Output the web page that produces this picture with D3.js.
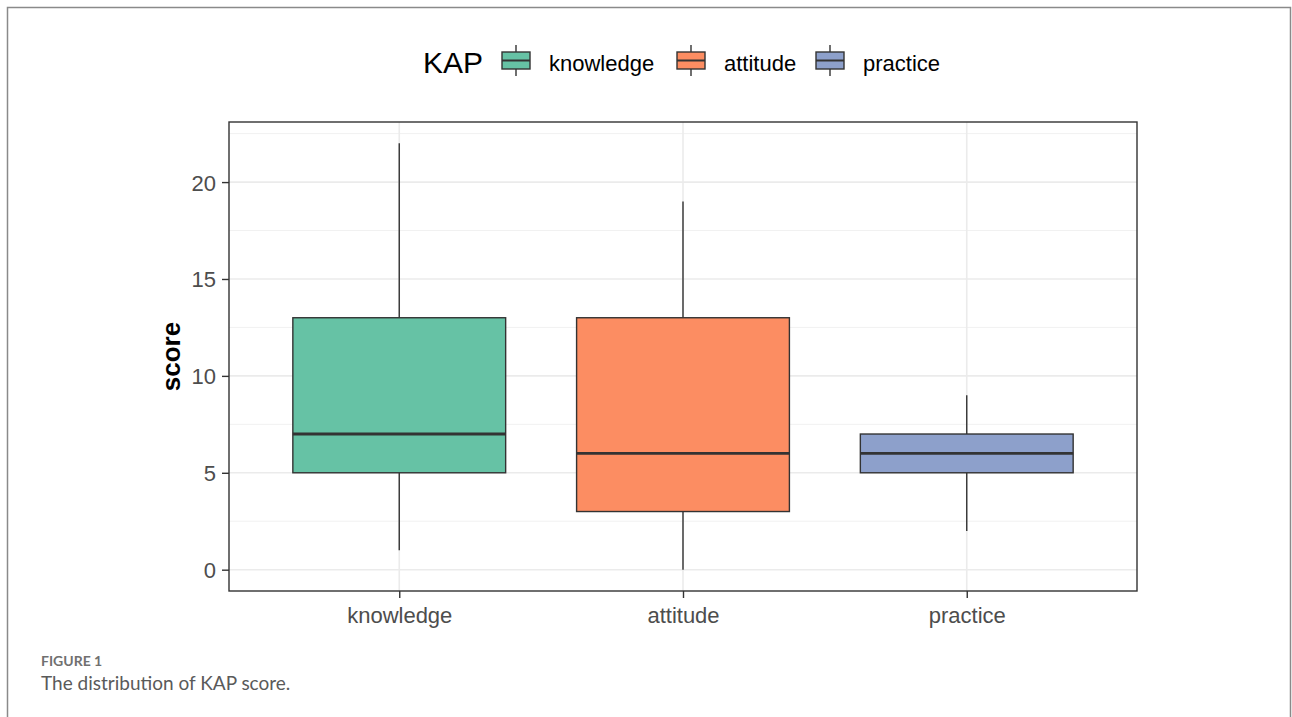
<!DOCTYPE html>
<html lang="en">
<head>
<meta charset="UTF-8">
<title>KAP score</title>
<style>
  body { margin: 0; background: #fff; }
  text { font-family: "Liberation Sans", Arial, sans-serif; }
</style>
</head>
<body>
<svg id="chart" width="1292" height="717"></svg>
<script src="https://cdn.jsdelivr.net/npm/d3@7"></script>
<script>
// data
var categories = ["knowledge", "attitude", "practice"];
var mins    = [1, 0, 2];
var q1s     = [5, 3, 5];
var medians = [7, 6, 6];
var q3s     = [13, 13, 7];
var maxs    = [22, 19, 9];
var yTicks  = [0, 5, 10, 15, 20];
var colors  = ["#66C2A5", "#FC8D62", "#8DA0CB"];

var boxes = categories.map(function(c, i) {
  return {name: c, min: mins[i], q1: q1s[i], med: medians[i], q3: q3s[i], max: maxs[i], color: colors[i]};
});

var svg = d3.select("#chart");

// outer frame of the figure
svg.append("path")
  .attr("d", "M7.5,730 V7.5 H1290.5 V730")
  .attr("fill", "none")
  .attr("stroke", "#8a8a8a")
  .attr("stroke-width", 1.5);

var panel = {left: 229, right: 1137, top: 122, bottom: 591};

var y = d3.scaleLinear().domain([-1.1, 23.1]).range([panel.bottom, panel.top]);
var x = d3.scaleLinear().domain([0.4, 3.6]).range([panel.left, panel.right]);
var boxW = 0.75;

var g = svg.append("g");

// minor grid
d3.range(2.5, 23, 5).forEach(function(v) {
  g.append("line")
    .attr("x1", panel.left).attr("x2", panel.right)
    .attr("y1", y(v)).attr("y2", y(v))
    .attr("stroke", "#F1F1F1").attr("stroke-width", 1);
});
// major grid
yTicks.forEach(function(v) {
  g.append("line")
    .attr("x1", panel.left).attr("x2", panel.right)
    .attr("y1", y(v)).attr("y2", y(v))
    .attr("stroke", "#EBEBEB").attr("stroke-width", 1.6);
});
categories.forEach(function(c, i) {
  g.append("line")
    .attr("x1", x(i + 1)).attr("x2", x(i + 1))
    .attr("y1", panel.top).attr("y2", panel.bottom)
    .attr("stroke", "#EBEBEB").attr("stroke-width", 1.6);
});

// boxplots
var bx = g.selectAll("g.box").data(boxes).enter().append("g").attr("class", "box");
bx.append("line")
  .attr("x1", function(d, i) { return x(i + 1); })
  .attr("x2", function(d, i) { return x(i + 1); })
  .attr("y1", function(d) { return y(d.max); })
  .attr("y2", function(d) { return y(d.q3); })
  .attr("stroke", "#333").attr("stroke-width", 1.4);
bx.append("line")
  .attr("x1", function(d, i) { return x(i + 1); })
  .attr("x2", function(d, i) { return x(i + 1); })
  .attr("y1", function(d) { return y(d.q1); })
  .attr("y2", function(d) { return y(d.min); })
  .attr("stroke", "#333").attr("stroke-width", 1.4);
bx.append("rect")
  .attr("x", function(d, i) { return x(i + 1 - boxW / 2); })
  .attr("width", function() { return x(1 + boxW / 2) - x(1 - boxW / 2); })
  .attr("y", function(d) { return y(d.q3); })
  .attr("height", function(d) { return y(d.q1) - y(d.q3); })
  .attr("fill", function(d) { return d.color; })
  .attr("stroke", "#333").attr("stroke-width", 1.4);
bx.append("line")
  .attr("x1", function(d, i) { return x(i + 1 - boxW / 2); })
  .attr("x2", function(d, i) { return x(i + 1 + boxW / 2); })
  .attr("y1", function(d) { return y(d.med); })
  .attr("y2", function(d) { return y(d.med); })
  .attr("stroke", "#333").attr("stroke-width", 2.8);

// panel border
g.append("rect")
  .attr("x", panel.left).attr("y", panel.top)
  .attr("width", panel.right - panel.left).attr("height", panel.bottom - panel.top)
  .attr("fill", "none").attr("stroke", "#333").attr("stroke-width", 1.4);

// axes
var yAxis = svg.append("g")
  .attr("transform", "translate(" + panel.left + ",0)")
  .call(d3.axisLeft(y).tickValues(yTicks).tickSize(7).tickPadding(6));
var xAxis = svg.append("g")
  .attr("transform", "translate(0," + panel.bottom + ")")
  .call(d3.axisBottom(x).tickValues([1, 2, 3]).tickFormat(function(d) { return categories[d - 1]; })
    .tickSize(7).tickPadding(9));
[yAxis, xAxis].forEach(function(a) {
  a.select(".domain").remove();
  a.selectAll(".tick line").attr("stroke", "#333").attr("stroke-width", 1.4);
  a.selectAll(".tick text")
    .attr("fill", "#4D4D4D")
    .style("font-size", "22px")
    .style("font-family", "'Liberation Sans', Arial, sans-serif");
});
yAxis.selectAll(".tick text").attr("dy", "0.36em");

svg.append("text")
  .attr("transform", "translate(180," + ((panel.top + panel.bottom) / 2) + ") rotate(-90)")
  .attr("text-anchor", "middle")
  .style("font-size", "26px")
  .style("font-weight", "bold")
  .attr("fill", "#000")
  .text("score");

// legend
var legend = svg.append("g").attr("transform", "translate(0,63)");
legend.append("text")
  .attr("x", 423).attr("y", 10)
  .style("font-size", "30px")
  .attr("fill", "#000")
  .text("KAP");
var keyX = [502, 677, 816];
var legItem = legend.selectAll("g.item").data(boxes).enter().append("g")
  .attr("class", "item")
  .attr("transform", function(d, i) { return "translate(" + keyX[i] + ",0)"; });
legItem.append("line")
  .attr("x1", 14).attr("x2", 14).attr("y1", -18).attr("y2", 13)
  .attr("stroke", "#333").attr("stroke-width", 1.4);
legItem.append("rect")
  .attr("x", 0).attr("y", -11).attr("width", 28).attr("height", 17)
  .attr("fill", function(d) { return d.color; })
  .attr("stroke", "#333").attr("stroke-width", 1.4);
legItem.append("line")
  .attr("x1", 0).attr("x2", 28).attr("y1", -2.5).attr("y2", -2.5)
  .attr("stroke", "#333").attr("stroke-width", 2);
legItem.append("text")
  .attr("x", 47).attr("y", 8)
  .style("font-size", "22px")
  .attr("fill", "#000")
  .text(function(d) { return d.name; });

// caption
svg.append("text")
  .attr("x", 41).attr("y", 666)
  .style("font-family", "Lato, 'Open Sans', sans-serif")
  .style("font-size", "14px")
  .style("font-weight", "bold")
  .attr("fill", "#707070")
  .text("FIGURE 1");
svg.append("text")
  .attr("x", 41).attr("y", 690)
  .style("font-family", "Lato, 'Open Sans', sans-serif")
  .style("font-size", "19px")
  .attr("fill", "#5a5a5a")
  .text("The distribution of KAP score.");
</script>
</body>
</html>
